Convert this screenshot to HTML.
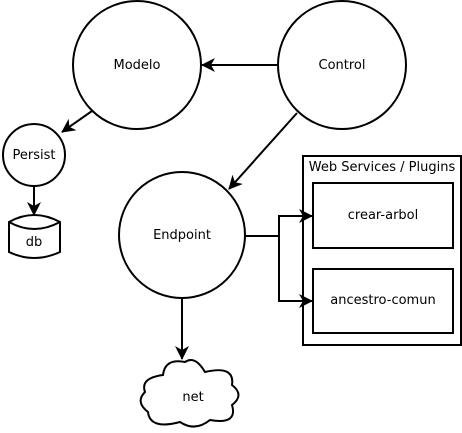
<!DOCTYPE html>
<html><head><style>body{margin:0;background:#fff}svg{display:block}</style></head>
<body><svg width="462" height="433" viewBox="0 0 462 433" xmlns="http://www.w3.org/2000/svg">
<defs><marker id="a" markerWidth="14" markerHeight="14" refX="13" refY="7" orient="auto" markerUnits="userSpaceOnUse"><path d="M0,0 L14,7 L0,14 L4,7 Z" fill="#000"/></marker></defs>
<g fill="none" stroke="#000" stroke-width="2">
<circle cx="137" cy="65" r="64"/>
<circle cx="342" cy="65" r="64"/>
<circle cx="34" cy="155" r="31"/>
<circle cx="182" cy="235" r="63"/>
<rect x="303" y="156" width="158" height="189"/>
<rect x="313" y="183" width="140" height="65"/>
<rect x="313" y="269" width="140" height="64"/>
<path d="M9,222 Q34,208 60,222 L60,252 Q34,264 9,252 Z M9,222 Q34,236 60,222"/>
<path d="M163,375 Q165,358 185,362 Q195,355 205,372 Q235,365 232,385 Q245,395 232,405 Q238,425 210,420 Q195,432 180,422 Q150,430 148,412 Q135,402 145,392 Q140,378 163,375 Z"/>
<path d="M278,65 L202,65" marker-end="url(#a)"/>
<path d="M92,111 L62,132" marker-end="url(#a)"/>
<path d="M34,186 L34,215" marker-end="url(#a)"/>
<path d="M297,113 L229,189" marker-end="url(#a)"/>
<path d="M182,298 L182,359" marker-end="url(#a)"/>
<path d="M245,236 L279,236 L279,216 L312,216" marker-end="url(#a)"/>
<path d="M279,236 L279,301 L312,301" marker-end="url(#a)"/>
</g>
<g font-family="DejaVu Sans, sans-serif" fill="#000" style="font-size:13px">
<text x="137" y="69" text-anchor="middle">Modelo</text>
<text x="342" y="69" text-anchor="middle">Control</text>
<text x="34" y="159" text-anchor="middle">Persist</text>
<text x="34" y="246" text-anchor="middle">db</text>
<text x="182" y="239" text-anchor="middle">Endpoint</text>
<text x="193" y="401" text-anchor="middle">net</text>
<text x="382" y="171" text-anchor="middle">Web Services / Plugins</text>
<text x="383" y="219" text-anchor="middle">crear-arbol</text>
<text x="383" y="304" text-anchor="middle">ancestro-comun</text>
</g>
</svg></body></html>
